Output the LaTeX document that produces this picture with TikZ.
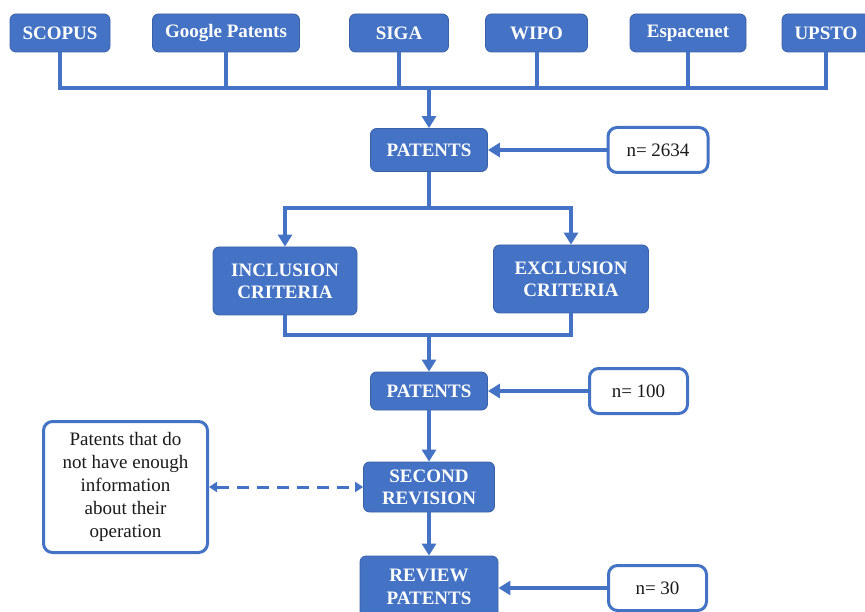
\documentclass[tikz,border=0pt]{standalone}
\usepackage{fontspec}
\setmainfont{LiberationSerif}[Extension=.ttf, UprightFont=*-Regular, BoldFont=*-Bold, ItalicFont=*-Italic, BoldItalicFont=*-BoldItalic]
\usetikzlibrary{arrows.meta}
\definecolor{obl}{HTML}{4472C4}
\definecolor{txt}{HTML}{1A1A1A}
\tikzset{
  bluebox/.style={draw=obl!85!black, line width=0.8pt, fill=obl, rounded corners=6pt, text=white,
    font=\fontsize{19}{22}\selectfont\bfseries, align=center, inner sep=0pt},
  whitebox/.style={draw=obl, line width=3pt, fill=white, rounded corners=9pt, text=txt,
    font=\fontsize{19}{23}\selectfont, align=center, inner sep=0pt},
  conn/.style={draw=obl, line width=4pt},
  arr/.style={conn, -{Triangle[width=14pt,length=12pt]}},
  darr/.style={draw=obl, line width=3pt, dash pattern=on 12pt off 8pt,
    {Triangle[width=10pt,length=8pt]}-{Triangle[width=10pt,length=8pt]}}
}
\begin{document}
\begin{tikzpicture}[x=1pt,y=-1pt]
\useasboundingbox (0,0) rectangle (865,612);
% sources
\node[bluebox, minimum width=100pt, minimum height=38pt] (scopus) at (60,33) {SCOPUS};
\node[bluebox, minimum width=147pt, minimum height=38pt] (google) at (226,33) {Google Patents};
\node[bluebox, minimum width=99pt, minimum height=38pt] (siga) at (399,33) {SIGA};
\node[bluebox, minimum width=102pt, minimum height=38pt] (wipo) at (536.5,33) {WIPO};
\node[bluebox, minimum width=116pt, minimum height=38pt] (espa) at (688,33) {Espacenet};
\node[bluebox, minimum width=88pt, minimum height=38pt] (upsto) at (826,33) {UPSTO};
\coordinate (bus) at (429,88);
\foreach \b in {scopus,google,siga,wipo,espa,upsto}
  \draw[conn] (\b.south) |- (bus);
% patents 1
\node[bluebox, minimum width=117pt, minimum height=43pt] (pat1) at (429,150) {PATENTS};
\node[whitebox, minimum width=100pt, minimum height=45pt] (n1) at (658,150) {n= 2634};
\draw[arr] (bus) -- (pat1.north);
\draw[arr] (n1.west) -- (pat1.east);
% criteria
\node[bluebox, minimum width=144pt, minimum height=68pt] (incl) at (285,281) {INCLUSION\\CRITERIA};
\node[bluebox, minimum width=155pt, minimum height=68pt] (excl) at (571,279) {EXCLUSION\\CRITERIA};
\coordinate (split) at (429,208);
\draw[conn] (pat1.south) -- (split);
\draw[arr] (split) -| (incl.north);
\draw[arr] (split) -| (excl.north);
\coordinate (merge) at (429,335);
\draw[conn] (incl.south) |- (merge);
\draw[conn] (excl.south) |- (merge);
% patents 2
\node[bluebox, minimum width=117pt, minimum height=38pt] (pat2) at (429,391) {PATENTS};
\node[whitebox, minimum width=98pt, minimum height=45pt] (n2) at (638.5,391) {n= 100};
\draw[arr] (merge) -- (pat2.north);
\draw[arr] (n2.west) -- (pat2.east);
% second revision
\node[bluebox, minimum width=131pt, minimum height=50pt] (rev) at (429,487) {SECOND\\REVISION};
\node[whitebox, minimum width=164pt, minimum height=131pt] (info) at (125.5,487)
  {Patents that do\\not have enough\\information\\about their\\operation};
\draw[arr] (pat2.south) -- (rev.north);
\draw[darr] (info.east) -- (rev.west);
% review
\node[bluebox, minimum width=138pt, minimum height=64pt] (review) at (429,588) {};
\node[text=white, font=\fontsize{19}{23}\selectfont\bfseries, align=center] (reviewtxt) at (429,587) {REVIEW\\PATENTS};
\node[whitebox, minimum width=98pt, minimum height=45pt] (n3) at (657.5,588) {n= 30};
\draw[arr] (rev.south) -- (review.north);
\draw[arr] (n3.west) -- (review.east);
\end{tikzpicture}
\end{document}
